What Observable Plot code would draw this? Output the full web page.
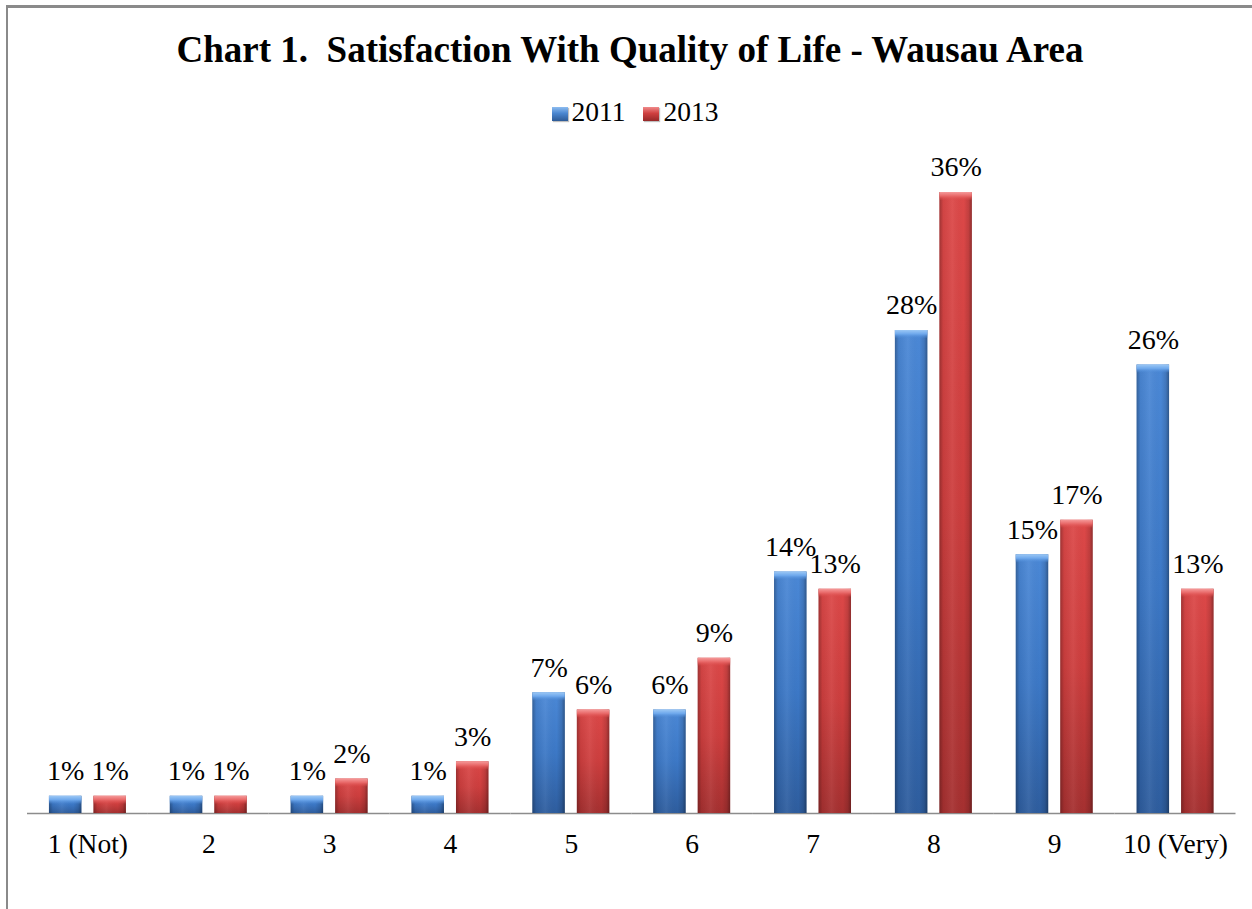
<!DOCTYPE html>
<html>
<head>
<meta charset="utf-8">
<script src="https://cdn.jsdelivr.net/npm/d3@7"></script>
<script src="https://cdn.jsdelivr.net/npm/@observablehq/plot@0.6"></script>
<style>
  html, body { margin: 0; padding: 0; background: #fff; }
  body { width: 1252px; height: 909px; overflow: hidden; position: relative; font-family: "Liberation Serif", "Times New Roman", serif; }
  #frame { position: absolute; left: 6px; top: 5px; width: 1300px; height: 1000px; border-top: 3px solid #8a8a8a; border-left: 2px solid #8a8a8a; box-sizing: border-box; pointer-events: none; }
  #header { position: relative; height: 140px; width: 1252px; }
  #title { position: absolute; left: 8px; right: 0; top: 31px; text-align: center; font-size: 37px; line-height: 37px; font-weight: bold; color: #000; white-space: pre; }
  #legend { position: absolute; left: 18px; right: 0; top: 98px; text-align: center; font-size: 27.5px; line-height: 27.5px; color: #000; white-space: nowrap; }
  .sw { display: inline-block; width: 16px; height: 14px; margin-right: 4px; vertical-align: 0px; box-shadow: 1px 1px 1px rgba(0,0,0,0.25); }
  .item { margin: 0 9px; }
</style>
</head>
<body>
<div id="header">
  <div id="title"></div>
  <div id="legend"></div>
</div>
<div id="chart"></div>
<div id="frame"></div>
<script>
const titleText = "Chart 1.  Satisfaction With Quality of Life - Wausau Area";
const categories = ["1 (Not)", "2", "3", "4", "5", "6", "7", "8", "9", "10 (Very)"];
const years = ["2011", "2013"];
const values2011 = [1, 1, 1, 1, 7, 6, 14, 28, 15, 26];
const values2013 = [1, 1, 2, 3, 6, 9, 13, 36, 17, 13];

const data = categories.flatMap((c, i) => [
  {category: c, year: years[0], value: values2011[i]},
  {category: c, year: years[1], value: values2013[i]}
]);
const d2011 = data.filter(d => d.year === years[0]);
const d2013 = data.filter(d => d.year === years[1]);

document.getElementById("title").textContent = titleText;
const legendColors = {
  "2011": "linear-gradient(#8dbcf0 0%, #4a86d0 45%, #2d5a96 100%)",
  "2013": "linear-gradient(#f08a8a 0%, #cf4040 45%, #962828 100%)"
};
document.getElementById("legend").innerHTML = years.map(y =>
  `<span class="item"><span class="sw" style="background:${legendColors[y]}"></span>${y}</span>`
).join("");

const chart = Plot.plot({
  width: 1252,
  height: 769,
  marginLeft: 27,
  marginRight: 16.5,
  marginTop: 52,
  marginBottom: 96,
  style: {fontFamily: "Liberation Serif, Times New Roman, serif", fontSize: "27.5px", color: "#000", background: "transparent", overflow: "visible"},
  fx: {domain: categories, padding: 0, round: false, label: null, axis: "bottom", tickSize: 0, tickPadding: 20},
  x: {domain: years, paddingInner: 0.27, paddingOuter: 0.493, round: false, axis: null},
  y: {domain: [0, 36], axis: null},
  marks: [
    Plot.ruleY([0], {stroke: "#8c8c8c", strokeWidth: 1.5}),
    Plot.barY(d2011, {fx: "category", x: "year", y: "value", fill: "url(#gBlue)"}),
    Plot.barY(d2013, {fx: "category", x: "year", y: "value", fill: "url(#gRed)"}),
    Plot.barY(data, {fx: "category", x: "year", y: "value", fill: "url(#gEdge)"}),
    Plot.barY(d2011, {fx: "category", x: "year", y1: "value", y2: "value", insetBottom: -8, fill: "url(#capBlue)"}),
    Plot.barY(d2013, {fx: "category", x: "year", y1: "value", y2: "value", insetBottom: -8, fill: "url(#capRed)"}),
    Plot.text(data, {fx: "category", x: "year", y: "value", text: d => d.value + "%", dy: -25, fill: "#000", fontSize: 28})
  ]
});

const svg = d3.select(chart);
const defs = svg.insert("defs", ":first-child");
function vgrad(id, stops) {
  const g = defs.append("linearGradient").attr("id", id).attr("x1", 0).attr("y1", 0).attr("x2", 0).attr("y2", 1);
  stops.forEach(([o, c, op]) => g.append("stop").attr("offset", o).attr("stop-color", c).attr("stop-opacity", op == null ? 1 : op));
}
function hgrad(id, stops) {
  const g = defs.append("linearGradient").attr("id", id).attr("x1", 0).attr("y1", 0).attr("x2", 1).attr("y2", 0);
  stops.forEach(([o, c, op]) => g.append("stop").attr("offset", o).attr("stop-color", c).attr("stop-opacity", op == null ? 1 : op));
}
vgrad("gBlue", [[0, "#4b88d6"], [0.5, "#3c78c6"], [1, "#2e5d9e"]]);
vgrad("gRed", [[0, "#dc4848"], [0.5, "#cd3e3e"], [1, "#a53030"]]);
hgrad("gEdge", [[0, "#000", 0.28], [0.12, "#000", 0.05], [0.4, "#fff", 0.06], [0.75, "#000", 0.0], [0.9, "#000", 0.12], [1, "#000", 0.35]]);
vgrad("capBlue", [[0, "#9cc8f5"], [0.5, "#6ea8ec"], [1, "#4d8ad6", 0.2]]);
vgrad("capRed", [[0, "#f59a9a"], [0.5, "#e86868"], [1, "#dc4a4a", 0.2]]);

const filt = defs.append("filter").attr("id", "shadow").attr("x", "-20%").attr("y", "-5%").attr("width", "150%").attr("height", "115%");
filt.append("feDropShadow").attr("dx", 2).attr("dy", 1).attr("stdDeviation", 1.5).attr("flood-color", "#000").attr("flood-opacity", 0.3);
svg.selectAll("g[aria-label='bar']").filter(function() {
  const f = this.getAttribute("fill");
  return f === "url(#gBlue)" || f === "url(#gRed)";
}).attr("filter", "url(#shadow)");

document.getElementById("chart").appendChild(chart);
</script>
</body>
</html>
